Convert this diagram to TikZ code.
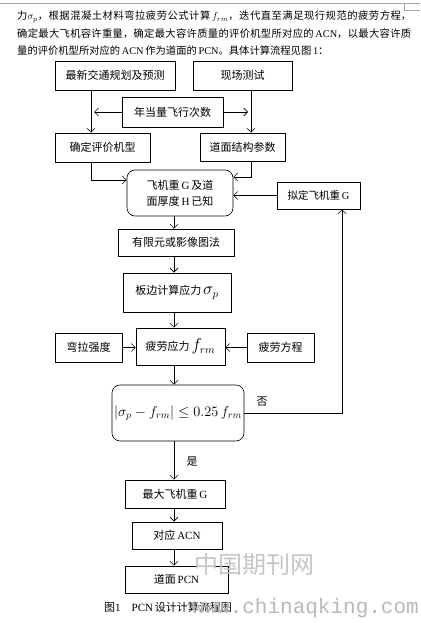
\documentclass[tikz,border=0pt]{standalone}
\usepackage{fontspec}
\setmainfont{Liberation Serif}
\newfontfamily\cjk{Noto Sans CJK SC}
\newfontfamily\wmmono{Liberation Mono}
\usetikzlibrary{arrows.meta}
\XeTeXlinebreaklocale "zh"
\XeTeXlinebreakskip=0pt plus 1pt
\newcommand\zh[1]{{\cjk #1}}
\begin{document}
\begin{tikzpicture}[x=1pt,y=-1pt,
  flow/.style={draw, line width=0.6pt, inner sep=0pt, align=center,
    font=\fontsize{11}{16}\selectfont},
  heavy/.style={flow, line width=0.95pt},
  rbox/.style={flow, rounded corners=8pt},
  arr/.style={line width=0.6pt, -{Straight Barb[length=4pt,width=8pt]}},
  lbl/.style={inner sep=0pt, font=\fontsize{11}{13}\selectfont},
  rule/.style={gray!70, line width=0.6pt}
]
\useasboundingbox (0,0) rectangle (420,623);
\fill[white] (0,0) rectangle (420,623);

% page rule at top
\draw[rule] (0,3.5) -- (420,3.5);
\draw[rule] (404,3.5) -- (404,10) -- (420,10);

% paragraph
\node[anchor=north west, inner sep=0pt, text width=394pt, align=justify,
  font=\fontsize{10.3}{17.5}\selectfont] (para) at (17,11)
 {\zh{力}$\sigma_p$\zh{，根据混凝土材料弯拉疲劳公式计算}\,$f_{rm}$\zh{，迭代直至满足现行规范的疲劳方程，}\linebreak
  \zh{确定最大飞机容许重量，确定最大容许质量的评价机型所对应的}\,ACN\zh{，以最大容许质}\linebreak
  \zh{量的评价机型所对应的}\,ACN\,\zh{作为道面的}\,PCN\zh{。具体计算流程见图}\,1\zh{：}};

% boxes
\node[flow, minimum width=120pt, minimum height=29pt] (n1) at (115,75.5) {\zh{最新交通规划及预测}};
\node[flow, minimum width=99pt, minimum height=29pt] (n2) at (242.5,75.5) {\zh{现场测试}};
\node[flow, minimum width=101pt, minimum height=30pt] (n3) at (172.5,112) {\zh{年当量飞行次数}};
\node[flow, minimum width=95pt, minimum height=29pt] (n4) at (102.5,147.5) {\zh{确定评价机型}};
\node[flow, minimum width=85pt, minimum height=28pt] (n5) at (242.5,147) {\zh{道面结构参数}};
\node[rbox, minimum width=106pt, minimum height=46pt] (n6) at (180,193)
  {\zh{飞机重}\,G\,\zh{及道}\\\zh{面厚度}\,H\,\zh{已知}};
\node[flow, minimum width=83pt, minimum height=27pt, font=\fontsize{10.5}{12}\selectfont] (n7) at (318.5,195.5) {\zh{拟定飞机重}\,G};
\node[flow, minimum width=116pt, minimum height=27pt] (n8) at (176,242.5) {\zh{有限元或影像图法}};
\node[heavy, minimum width=108pt, minimum height=39pt] (n9) at (177,292.5)
  {\raisebox{-5pt}{\zh{板边计算应力}\,{\fontsize{16}{16}\selectfont$\sigma_p$}}};
\node[flow, minimum width=89pt, minimum height=37pt] (n10) at (180.5,346.5)
  {\raisebox{-2pt}{\zh{疲劳应力}\,{\fontsize{16}{16}\selectfont$f_{rm}$}}};
\node[flow, minimum width=67pt, minimum height=29pt] (n11) at (88.5,347.5) {\zh{弯拉强度}};
\node[flow, minimum width=67pt, minimum height=29pt] (n12) at (280.5,347.5) {\zh{疲劳方程}};
\node[rbox, minimum width=132pt, minimum height=56pt, font=\fontsize{14}{16}\selectfont] (n13) at (178,413)
  {$\left|\sigma_p - f_{rm}\right| \le 0.25\, f_{rm}$};
\node[flow, minimum width=100pt, minimum height=28pt] (n14) at (175,494) {\zh{最大飞机重}\,G};
\node[heavy, minimum width=90pt, minimum height=27pt] (n15) at (177,535.5) {\zh{对应}\,ACN};
\node[flow, minimum width=103pt, minimum height=27pt] (n16) at (176.5,579.5) {\zh{道面}\,PCN};

% helper coordinates
\coordinate (c1) at (91,0);
\coordinate (c2) at (251,0);
\coordinate (trunk) at (174,0);
\coordinate (r1) at (0,180);
\coordinate (r2) at (0,177);
\coordinate (loop) at (342,0);

% connectors
\draw[arr] (n1.south -| c1) -- (n4.north -| c1);
\draw[arr, shorten >=3pt] (n3.west) -- (n3.west -| c1);
\draw[arr, shorten >=3pt] (n3.east) -- (n3.east -| c2);
\draw[arr] (n2.south -| c2) -- (n5.north -| c2);
\draw[arr] (n4.south -| c1) |- (r1 -| n6.west);
\draw[arr] (n5.south -| c2) |- (r2 -| n6.east);
\draw[arr] (n7.west) -- (n7.west -| n6.east);
\draw[arr] (n6.south -| trunk) -- (n8.north -| trunk);
\draw[arr] (n8.south -| trunk) -- (n9.north -| trunk);
\draw[arr] (n9.south -| trunk) -- (n10.north -| trunk);
\draw[arr] (n11.east) -- (n11.east -| n10.west);
\draw[arr] (n12.west) -- (n12.west -| n10.east);
\draw[arr] (n10.south -| trunk) -- (n13.north -| trunk);
\draw[arr] (n13.east) -- (n13.east -| loop) -- (n7.south -| loop);
\draw[arr] (n13.south -| trunk) -- (n14.north -| trunk);
\draw[arr] (n14.south -| trunk) -- (n15.north -| trunk);
\draw[arr] (n15.south -| trunk) -- (n16.north -| trunk);
\node[lbl] (no) at (262,402) {\zh{否}};
\node[lbl] (yes) at (192,462) {\zh{是}};

% caption
\node[anchor=west, inner sep=0pt, font=\fontsize{11}{13}\selectfont] (cap) at (104,607)
  {\zh{图}1\quad PCN\,\zh{设计计算流程图}};

% watermark
\node[inner sep=0pt, text=gray!45, font=\fontsize{24}{26}\selectfont] (wm1) at (254,564) {\zh{中国期刊网}};
\node[anchor=base east, inner sep=0pt, text=gray!55, font=\wmmono\fontsize{21}{23}\selectfont] (wm2) at (419,613) {www.chinaqking.com};
\end{tikzpicture}
\end{document}
